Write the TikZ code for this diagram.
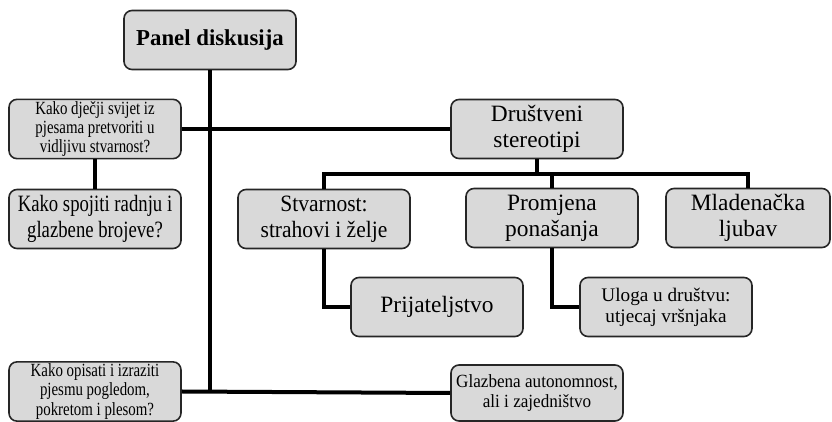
\documentclass[tikz,border=0pt]{standalone}
\usepackage{fontspec}
\setmainfont{Liberation Serif}
\newfontfamily\condfont[FakeStretch=0.8]{Liberation Serif}
\newfontfamily\semicondfont[FakeStretch=0.92]{Liberation Serif}
\newcommand{\smallsize}{\fontsize{9.3}{9.6}\selectfont}
\newcommand{\bigsize}{\fontsize{11.7}{13}\selectfont}
\tikzset{box/.style={draw=black!85,line width=0.8pt,fill=black!15,rounded corners=4pt,align=center,minimum width=86pt,minimum height=29.5pt,inner sep=1pt}}
\tikzset{link/.style={line width=2pt}}

\begin{document}
\begin{tikzpicture}[x=0.5pt, y=-0.5pt]
\useasboundingbox (0,0) rectangle (832,422);
\node[box, font=\fontsize{11.4}{13}\selectfont\bfseries] (panel) at (210,40) {Panel diskusija};
\node[box, font=\condfont\smallsize] (djecji) at (95,129) {Kako dječji svijet iz \\ pjesama pretvoriti u \\ vidljivu stvarnost?};
\node[box, font=\condfont\bigsize] (spojiti) at (95,219) {Kako spojiti radnju i \\ glazbene brojeve?};
\node[box, font=\condfont\smallsize, minimum height=28.5pt] (opisati) at (95,391.5) {Kako opisati i izraziti \\ pjesmu pogledom, \\ pokretom i plesom?};
\node[box, font=\bigsize] (drustv) at (537,129) {Društveni \\ stereotipi};
\node[box, font=\semicondfont\bigsize] (stvar) at (324,219) {Stvarnost: \\ strahovi i želje};
\node[box, font=\bigsize] (promj) at (552,218) {Promjena \\ ponašanja};
\node[box, font=\bigsize, minimum width=82pt] (mlad) at (748,218) {Mladenačka \\ ljubav};
\node[box, font=\bigsize] (prij) at (437,307) {Prijateljstvo};
\node[box, font=\fontsize{9.6}{10.5}\selectfont] (uloga) at (666,307) {Uloga u društvu: \\ utjecaj vršnjaka};
\node[box, font=\semicondfont\smallsize, minimum height=28pt] (glazb) at (537,393) {Glazbena autonomnost, \\ ali i zajedništvo};
\coordinate (bus) at (537,174);

\draw[link] (panel.south) -- (panel.south |- opisati.east);
\draw[link] (opisati.east) -- (glazb.west);
\draw[link] (djecji.east) -- (drustv.west);
\draw[link] (djecji.south) -- (spojiti.north);
\draw[link] (drustv.south) -- (bus);
\draw[link] (stvar.north) |- (bus) -| (mlad.north);
\draw[link] (promj.north) -- (promj.north |- bus);
\draw[link] (stvar.south) |- (prij.west);
\draw[link] (promj.south) |- (uloga.west);
\end{tikzpicture}
\end{document}
